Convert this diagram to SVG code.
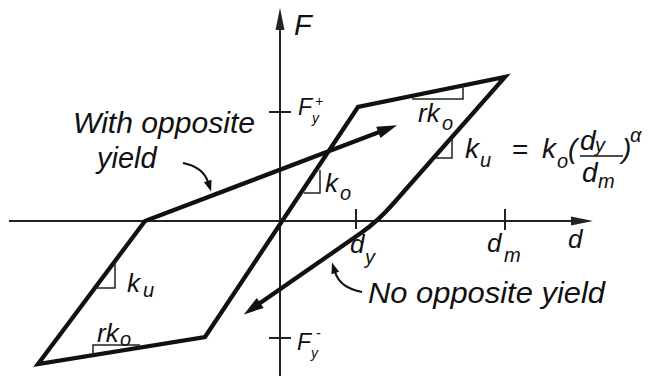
<svg xmlns="http://www.w3.org/2000/svg" width="653" height="376" viewBox="0 0 653 376">
<style>
text{font-family:"Liberation Sans",Arial,sans-serif;font-style:italic;fill:#111}
.up{font-style:normal}
.loop{fill:none;stroke:#111;stroke-width:4.3;stroke-linejoin:miter;stroke-miterlimit:10}
.axis{fill:none;stroke:#222;stroke-width:2}
.tick{stroke:#222;stroke-width:2}
.ra{fill:none;stroke:#222;stroke-width:1.5}
.lead{fill:none;stroke:#111;stroke-width:2.2}
</style>
<defs>
<marker id="ah" markerUnits="userSpaceOnUse" markerWidth="22" markerHeight="14" refX="1" refY="6" orient="auto-start-reverse" overflow="visible"><path d="M0,0 L20,6 L0,12 z" fill="#111"/></marker>
<marker id="ax" markerUnits="userSpaceOnUse" markerWidth="24" markerHeight="10" refX="1" refY="4.5" orient="auto" overflow="visible"><path d="M0,0 L22,4.5 L0,9 z" fill="#222"/></marker>
<marker id="sm" markerUnits="userSpaceOnUse" markerWidth="12" markerHeight="9" refX="1" refY="4" orient="auto" overflow="visible"><path d="M0,0 L11,4 L0,8 z" fill="#111"/></marker>
</defs>
<rect width="653" height="376" fill="#fff"/>
<g id="axes">
<path class="axis" d="M280,376 V29" marker-end="url(#ax)"/>
<path class="axis" d="M9,221 H572" marker-end="url(#ax)"/>
<line class="tick" x1="269" y1="112" x2="291" y2="112"/>
<line class="tick" x1="269" y1="338" x2="291" y2="338"/>
<line class="tick" x1="356" y1="209" x2="356" y2="229"/>
<line class="tick" x1="505" y1="209" x2="505" y2="230"/>
</g>
<g id="connectors">
<path id="loop" class="loop" d="M379.3,132.1 L145,221 L38,364 L205,337 L358,107 L505,77 L392,205 Q378,221 361,233 L259.4,303.6" marker-start="url(#ah)" marker-end="url(#ah)"/>
<path class="lead" d="M183,163 Q203,167 208,182" marker-end="url(#sm)"/>
<path class="lead" d="M362,292 Q340,288 335,272" marker-end="url(#sm)"/>
</g>
<g id="slopes">
<path class="ra" d="M412,99 H463 V85"/>
<path class="ra" d="M436,158 H452 V138"/>
<path class="ra" d="M304,193 H320 V170"/>
<path class="ra" d="M95,288 H115 V262"/>
<path class="ra" d="M93,355 V345 H140"/>
</g>
<g id="labels">
<text x="294" y="35" font-size="29">F</text>
<text x="298" y="115" font-size="23">F</text><text x="312" y="123" font-size="14">y</text><text x="315" y="106" font-size="14">+</text>
<text x="297" y="350" font-size="23">F</text><text x="311" y="358" font-size="14">y</text><text x="316" y="338" font-size="14">-</text>
<text x="568" y="248" font-size="26">d</text>
<text x="487" y="252" font-size="26">d</text><text x="504" y="262" font-size="20">m</text>
<text x="350" y="253" font-size="26">d</text><text x="365" y="264" font-size="20">y</text>
<text x="73" y="133" font-size="29" textLength="182" lengthAdjust="spacingAndGlyphs">With opposite</text>
<text x="97" y="168" font-size="29">yield</text>
<text x="368" y="303" font-size="29" textLength="237" lengthAdjust="spacingAndGlyphs">No opposite yield</text>
<text x="325" y="192" font-size="26">k</text><text x="340" y="200" font-size="20">o</text>
<text x="127" y="292" font-size="26">k</text><text x="143" y="297" font-size="20">u</text>
<text x="418" y="122" font-size="26">rk</text><text x="442" y="130" font-size="20">o</text>
<text x="97" y="342" font-size="26">rk</text><text x="120" y="346" font-size="20">o</text>
</g>
<g id="formula">
<text x="465" y="158" font-size="28">k</text><text x="480" y="167" font-size="20">u</text>
<text class="up" x="512" y="159" font-size="28">=</text>
<text x="542" y="158" font-size="28">k</text><text x="557" y="168" font-size="20">o</text>
<text x="568" y="158" font-size="28">(</text>
<text x="580" y="150" font-size="28">d</text><text x="595" y="152" font-size="20">y</text>
<line x1="580" y1="156" x2="623" y2="156" stroke="#111" stroke-width="1.6"/>
<text x="582" y="182" font-size="28">d</text><text x="598" y="188" font-size="20">m</text>
<text x="622" y="158" font-size="28">)</text>
<text x="630" y="142" font-size="20">α</text>
</g>
</svg>
